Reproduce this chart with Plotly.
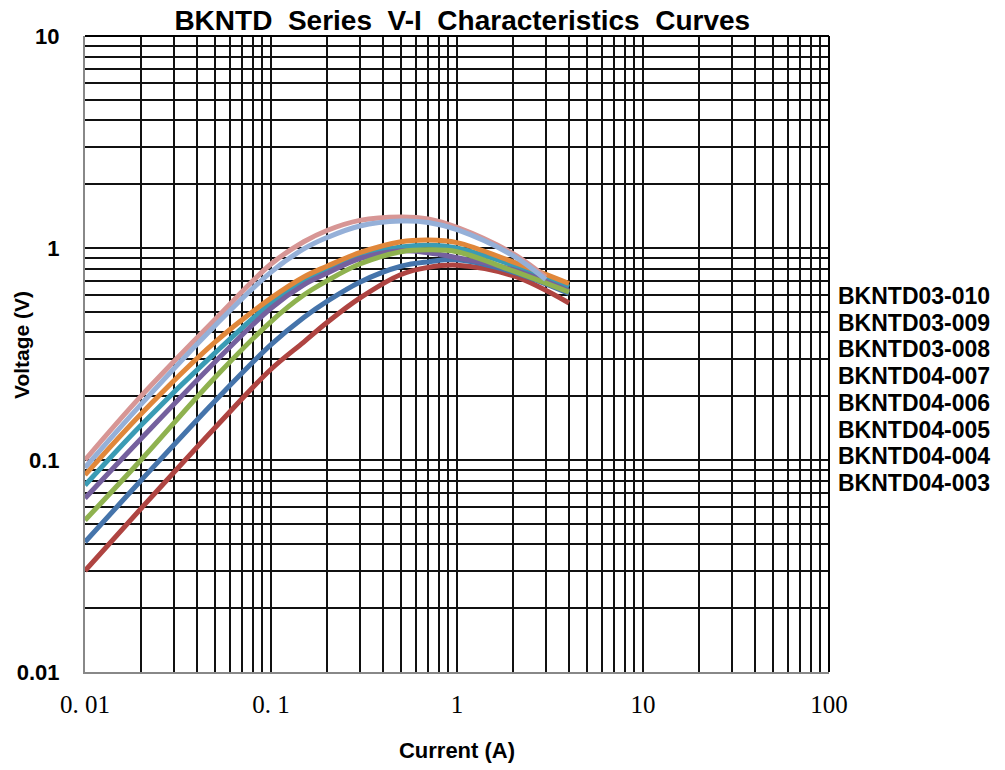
import plotly.graph_objects as go

# ---------------- data ----------------
current = [0.01, 0.02, 0.05, 0.1, 0.15, 0.2, 0.3, 0.5, 0.7, 1, 2, 4]
current_03 = [0.01, 0.02, 0.05, 0.1, 0.15, 0.2, 0.3, 0.5, 0.7, 1, 2, 3]

v_03_010 = [0.100, 0.200, 0.46, 0.84, 1.07, 1.21, 1.35, 1.40, 1.37, 1.25, 0.94, 0.73]
v_03_009 = [0.092, 0.183, 0.43, 0.77, 0.99, 1.12, 1.27, 1.34, 1.32, 1.22, 0.92, 0.71]
v_03_008 = [0.085, 0.165, 0.36, 0.58, 0.73, 0.82, 0.95, 1.07, 1.09, 1.06, 0.86, 0.68]
v_04_007 = [0.076, 0.146, 0.32, 0.55, 0.70, 0.79, 0.92, 1.01, 1.03, 1.00, 0.83, 0.655]
v_04_006 = [0.066, 0.126, 0.29, 0.52, 0.67, 0.76, 0.89, 0.97, 0.95, 0.90, 0.79, 0.627]
v_04_005 = [0.052, 0.100, 0.245, 0.45, 0.60, 0.70, 0.84, 0.96, 0.98, 0.96, 0.78, 0.62]
v_04_004 = [0.041, 0.080, 0.19, 0.35, 0.47, 0.56, 0.69, 0.82, 0.86, 0.88, 0.77, 0.61]
v_04_003 = [0.030, 0.059, 0.142, 0.268, 0.36, 0.445, 0.58, 0.75, 0.81, 0.83, 0.74, 0.55]

series_names = ["BKNTD03-010", "BKNTD03-009", "BKNTD03-008", "BKNTD04-007",
                "BKNTD04-006", "BKNTD04-005", "BKNTD04-004", "BKNTD04-003"]

x_tickvals = [0.01, 0.1, 1, 10, 100]
x_ticktext = ["0.\u00a001", "0.\u00a01", "1", "10", "100"]
y_tickvals = [0.01, 0.1, 1, 10]
y_ticktext = ["0.01", "0.1", "1", "10"]

# ---------------- styling ----------------
colors = {
    "BKNTD03-010": "#D79695",
    "BKNTD03-009": "#95B0D8",
    "BKNTD03-008": "#E0873A",
    "BKNTD04-007": "#3A9BB4",
    "BKNTD04-006": "#75609E",
    "BKNTD04-005": "#8FB24F",
    "BKNTD04-004": "#4574AB",
    "BKNTD04-003": "#AF4441",
}
data = {
    "BKNTD03-010": (current_03, v_03_010),
    "BKNTD03-009": (current_03, v_03_009),
    "BKNTD03-008": (current, v_03_008),
    "BKNTD04-007": (current, v_04_007),
    "BKNTD04-006": (current, v_04_006),
    "BKNTD04-005": (current, v_04_005),
    "BKNTD04-004": (current, v_04_004),
    "BKNTD04-003": (current, v_04_003),
}
draw_order = ["BKNTD04-003", "BKNTD04-004", "BKNTD04-007", "BKNTD04-006",
              "BKNTD04-005", "BKNTD03-008", "BKNTD03-010", "BKNTD03-009"]

fig = go.Figure()
for name in draw_order:
    xs, ys = data[name]
    fig.add_trace(go.Scatter(
        x=xs, y=ys, mode="lines", name=name,
        line=dict(color=colors[name], width=5, shape="spline", smoothing=1.0),
        showlegend=False,
    ))

W, H = 1005, 770
L, R, T, B = 85, 176, 36, 98
plot_w = W - L - R
plot_h = H - T - B

# legend as plain text on the right
top_py, step_py = 296, 26.7
for i, name in enumerate(series_names):
    py = top_py + i * step_py
    fig.add_annotation(
        text=name, xref="paper", yref="paper",
        x=1.009, y=(H - B - py) / plot_h, xanchor="left", yanchor="middle",
        showarrow=False,
        font=dict(family="Liberation Sans, Arial", size=23, color="black", weight="bold"),
    )

# y-axis title
fig.add_annotation(
    text="Voltage (V)", xref="paper", yref="paper",
    x=(22 - L) / plot_w, y=(H - B - 345) / plot_h, xanchor="center", yanchor="middle",
    textangle=-90, showarrow=False,
    font=dict(family="Liberation Sans, Arial", size=21, color="black", weight="bold"),
)

# black frame on top/right
fig.add_shape(type="line", xref="x domain", yref="y domain", x0=0, x1=1, y0=1, y1=1,
              line=dict(color="black", width=2))
fig.add_shape(type="line", xref="x domain", yref="y domain", x0=1, x1=1, y0=0, y1=1,
              line=dict(color="black", width=2))

grid = dict(gridcolor="#111111", gridwidth=2)
fig.update_xaxes(
    type="log", range=[-2, 2], automargin=False,
    tickmode="array", tickvals=x_tickvals, ticktext=x_ticktext,
    showgrid=True, **grid,
    minor=dict(dtick="D1", showgrid=True, gridcolor="#111111", gridwidth=2, ticks=""),
    showline=True, linecolor="#888888", linewidth=2,
    ticks="", ticklabelstandoff=9,
    tickfont=dict(family="Liberation Serif, Times New Roman", size=25, color="black"),
    title=dict(text="Current (A)", standoff=26,
               font=dict(family="Liberation Sans, Arial", size=22, color="black", weight="bold")),
    zeroline=False,
)
fig.update_yaxes(
    type="log", range=[-2, 1], automargin=False,
    tickmode="array", tickvals=y_tickvals, ticktext=y_ticktext,
    showgrid=True, **grid,
    minor=dict(dtick="D1", showgrid=True, gridcolor="#111111", gridwidth=2, ticks=""),
    showline=True, linecolor="#888888", linewidth=2,
    ticks="", ticklabelstandoff=19,
    tickfont=dict(family="Liberation Sans, Arial", size=22, color="black", weight="bold"),
    zeroline=False,
)

fig.update_layout(
    width=W, height=H,
    margin=dict(l=L, r=R, t=T, b=B, pad=0),
    paper_bgcolor="white", plot_bgcolor="white",
    title=dict(text="BKNTD\u00a0 Series\u00a0 V-I\u00a0 Characteristics\u00a0 Curves",
               x=0.46, xanchor="center", y=1 - 20 / H, yanchor="middle",
               font=dict(family="Liberation Sans, Arial", size=28, color="black", weight="bold")),
)

fig.write_html("out.html", config={"displayModeBar": False},
               post_script="document.body.style.margin='0px';")
